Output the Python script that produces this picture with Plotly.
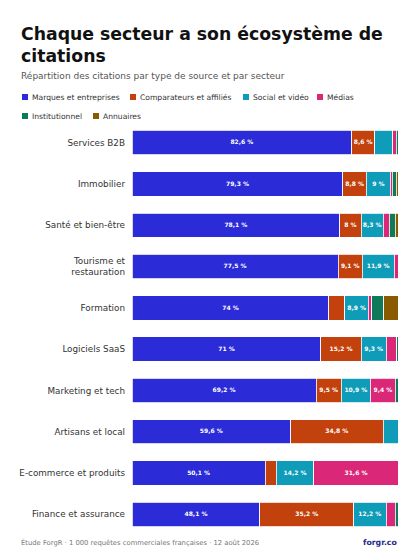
import plotly.graph_objects as go

sectors = ["Services B2B", "Immobilier", "Santé et bien-être", "Tourisme et<br>restauration",
           "Formation", "Logiciels SaaS", "Marketing et tech", "Artisans et local",
           "E-commerce et produits", "Finance et assurance"]
series_names = ["Marques et entreprises", "Comparateurs et affiliés", "Social et vidéo",
                "Médias", "Institutionnel", "Annuaires"]
marques = [82.6, 79.3, 78.1, 77.5, 74.0, 71.0, 69.2, 59.6, 50.1, 48.1]
comparateurs = [8.6, 8.8, 8.0, 9.1, 6.0, 15.2, 9.5, 34.8, 4.1, 35.2]
social = [6.8, 9.0, 8.3, 11.9, 8.9, 9.3, 10.9, 5.6, 14.2, 12.2]
medias = [1.4, 0.8, 2.4, 1.5, 1.2, 4.1, 9.4, 0.0, 31.6, 3.4]
institutionnel = [0.6, 1.4, 2.2, 0.0, 4.6, 0.4, 1.0, 0.0, 0.0, 1.1]
annuaires = [0.0, 0.7, 1.0, 0.0, 5.3, 0.0, 0.0, 0.0, 0.0, 0.0]
colors = ["#2b2bd8", "#c2410c", "#0e9cb8", "#db2777", "#0f7a5a", "#8a5a00"]

W, H = 420, 560
L, R, T, B = 132, 22, 122, 25
PW, PH = W - L - R, H - T - B


def px(x):
    return (x - L) / PW


def py(y):
    return (H - B - y) / PH


fig = go.Figure()
for name, vals, col in zip(series_names,
                           [marques, comparateurs, social, medias, institutionnel, annuaires],
                           colors):
    text = [(f"<b>{v:g} %</b>".replace(".", ",") if v >= 8 else "") for v in vals]
    fig.add_trace(go.Bar(
        y=sectors, x=vals, name=name, orientation="h",
        marker=dict(color=col, line=dict(color="white", width=0.8)),
        text=text, textposition="inside", insidetextanchor="middle", textangle=0,
        textfont=dict(color="white", size=7, family="DejaVu Sans"),
        hovertemplate="%{y}: %{x} %<extra>" + name + "</extra>"))

fig.update_layout(
    barmode="stack", width=W, height=H,
    margin=dict(l=L, r=R, t=T, b=B, autoexpand=False),
    plot_bgcolor="white", paper_bgcolor="white",
    font=dict(family="DejaVu Sans", color="#333", size=9),
    bargap=0.41,
    showlegend=False,
    xaxis=dict(range=[0, 100], visible=False, automargin=False),
    yaxis=dict(autorange="reversed", showgrid=False, ticks="", ticklabelstandoff=6,
               automargin=False, tickfont=dict(size=8.8, color="#333")),
    uniformtext=dict(minsize=6, mode="show"),
)

legend_pos = [(22, 97), (130, 97), (243, 97), (317, 97), (22, 116), (93, 116)]
for (lx, ly), name, col in zip(legend_pos, series_names, colors):
    fig.add_shape(type="rect", xref="paper", yref="paper",
                  x0=px(lx), x1=px(lx + 6), y0=py(ly - 3), y1=py(ly + 3),
                  fillcolor=col, line=dict(width=0))
    fig.add_annotation(xref="paper", yref="paper", x=px(lx + 8), y=py(ly),
                       xanchor="left", yanchor="middle", showarrow=False, text=name,
                       font=dict(size=7.6, color="#333"))

fig.add_annotation(xref="paper", yref="paper", x=px(19), y=py(22), xanchor="left",
                   yanchor="top", align="left", showarrow=False,
                   text="<b>Chaque secteur a son écosystème de<br>citations</b>",
                   font=dict(size=17.3, color="#111"))
fig.add_annotation(xref="paper", yref="paper", x=px(19), y=py(76), xanchor="left",
                   yanchor="middle", showarrow=False,
                   text="Répartition des citations par type de source et par secteur",
                   font=dict(size=9, color="#555"))
fig.add_annotation(xref="paper", yref="paper", x=px(19), y=py(542), xanchor="left",
                   yanchor="middle", showarrow=False,
                   text="Étude ForgR · 1 000 requêtes commerciales françaises · 12 août 2026",
                   font=dict(size=6.8, color="#777"))
fig.add_annotation(xref="paper", yref="paper", x=px(399), y=py(542), xanchor="right",
                   yanchor="middle", showarrow=False, text="<b>forgr.co</b>",
                   font=dict(size=7.8, color="#1e2a8a"))
fig.write_html("out.html", config={"displayModeBar": False},
               post_script="document.body.style.margin='0';")
